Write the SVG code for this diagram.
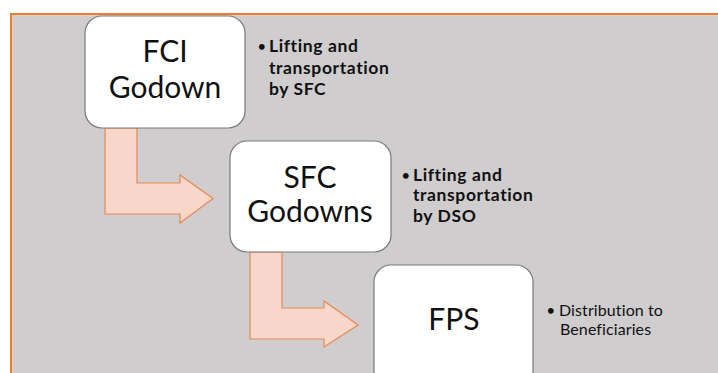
<svg xmlns="http://www.w3.org/2000/svg" width="718" height="373" viewBox="0 0 718 373">
<style>
.box{fill:#ffffff;stroke:#7a7a7a;stroke-width:1.2}
.arrow{fill:#f8d6c9;stroke:#e58a52;stroke-width:1.2;stroke-linejoin:miter}
.title{font-family:Lato,"Open Sans",sans-serif;font-size:30px;fill:#111;text-anchor:middle}
.note{font-family:Lato,"Open Sans",sans-serif;font-size:17.5px;font-weight:bold;fill:#111;letter-spacing:0.6px;font-variant-ligatures:none}
.note2{font-family:Lato,"Open Sans",sans-serif;font-size:16px;fill:#111;font-variant-ligatures:none;letter-spacing:0.1px}
.bul{font-family:Lato,"Open Sans",sans-serif;font-size:13px;font-weight:bold;fill:#111}
</style>
<rect x="0" y="0" width="718" height="373" fill="#ffffff"/>
<rect x="11" y="14" width="707" height="359" fill="#cfcdce"/>
<line x1="10" y1="14" x2="718" y2="14" stroke="#ed7d31" stroke-width="2"/>
<line x1="11" y1="13" x2="11" y2="373" stroke="#ed7d31" stroke-width="2"/>
<g id="connectors">
<polygon class="arrow" points="105,128 137,128 137,183 180,183 180,175 213,198.5 180,223 180,214 105,214"/>
<polygon class="arrow" points="250,252 282,252 282,308 324,308 324,301 358,325 324,347 324,339 250,339"/>
</g>
<g id="fci">
<rect class="box" x="85" y="16" width="160" height="112" rx="17"/>
<text class="title" x="165" y="62">FCI</text>
<text class="title" x="165" y="98">Godown</text>
</g>
<g id="sfc">
<rect class="box" x="230" y="141" width="161" height="111" rx="17"/>
<text class="title" x="310" y="188">SFC</text>
<text class="title" x="310" y="222">Godowns</text>
</g>
<g id="fps">
<rect class="box" x="374" y="265" width="159" height="125" rx="17"/>
<text class="title" x="454" y="330">FPS</text>
</g>
<g id="note1">
<text class="bul" x="258" y="51">•</text>
<text class="note" x="269" y="52">Lifting and</text>
<text class="note" x="269" y="74">transportation</text>
<text class="note" x="269" y="95">by SFC</text>
</g>
<g id="note2">
<text class="bul" x="402" y="180">•</text>
<text class="note" x="413" y="181">Lifting and</text>
<text class="note" x="413" y="201">transportation</text>
<text class="note" x="413" y="222">by DSO</text>
</g>
<g id="note3">
<text class="bul" x="547" y="315">•</text>
<text class="note2" x="559" y="316">Distribution to</text>
<text class="note2" x="560" y="335">Beneficiaries</text>
</g>
</svg>
